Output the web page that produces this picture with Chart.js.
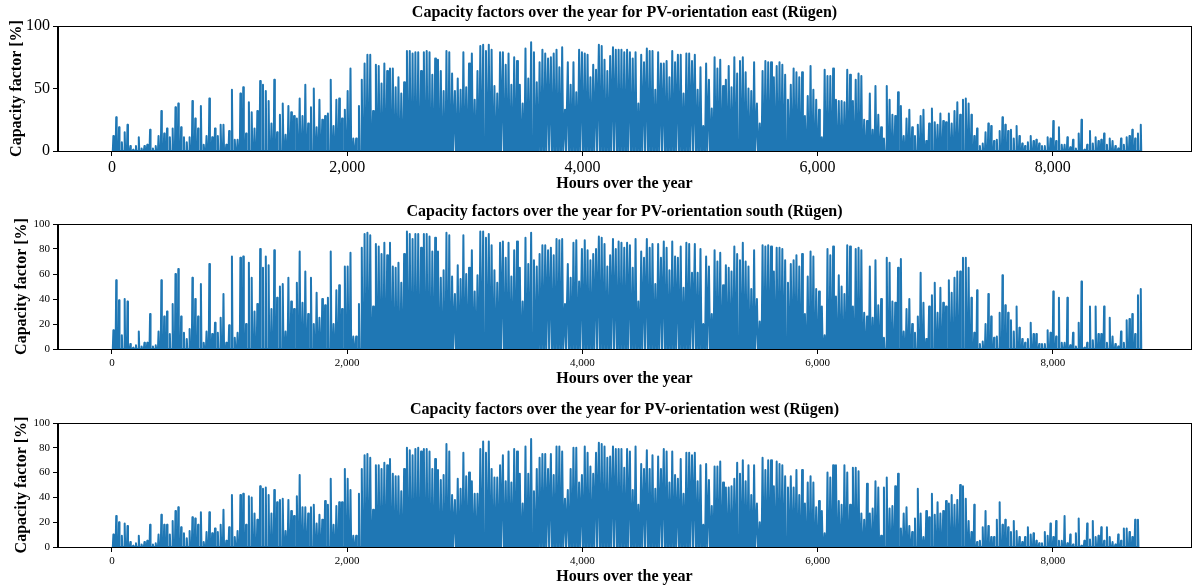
<!DOCTYPE html>
<html>
<head>
<meta charset="utf-8">
<script src="https://cdn.jsdelivr.net/npm/chart.js@4.4.1/dist/chart.umd.min.js"></script>
<style>
  html, body { margin: 0; padding: 0; background: #fff; }
  body { width: 1192px; height: 588px; position: relative; overflow: hidden; }
  .panel { position: absolute; left: 0; width: 1192px; height: 196px; }
  .panel canvas { display: block; }
</style>
</head>
<body>
<div class="panel" style="top:0px"><canvas id="east" width="1192" height="196"></canvas></div>
<div class="panel" style="top:196px"><canvas id="south" width="1192" height="196"></canvas></div>
<div class="panel" style="top:392px"><canvas id="west" width="1192" height="196"></canvas></div>
<script>
// Daily peak capacity factors [%] on Rügen, one value per day of the year
const eastPeaks = [
  12,27,19,7,15,21,4,1,4,11, 2,4,5,17,2,4,12,32,14,18, 11,18,35,38,19,11,7,11,40,26,
  18,36,5,12,42,11,18,12,21,21, 5,16,49,9,9,46,51,14,39,31, 18,32,56,53,48,40,22,57,15,29,
  38,13,36,31,28,26,42,28,53,22, 35,50,19,41,25,28,30,57,20,41, 42,26,33,48,66,10,10,36,57,70,
  77,77,32,69,68,54,70,64,66,66, 51,59,46,55,80,80,78,79,79,64, 79,80,79,61,74,73,64,48,80,79,
  62,48,58,49,79,51,70,78,41,64, 84,85,80,85,81,52,46,79,79,69, 78,53,75,72,53,38,82,58,87,79,
  55,71,81,78,74,75,78,81,67,83, 33,71,53,71,47,81,79,78,77,59, 69,65,85,84,73,64,76,83,81,81,
  81,79,
  81,79,74,79,38,77,71,82,80,80, 49,79,70,70,72,59,80,71,77,77, 46,78,78,72,77,49,67,20,70,57,
  34,75,66,73,52,57,68,51,75,62, 72,75,63,50,48,71,38,22,64,72, 71,71,59,68,71,69,61,41,53,66,
  63,59,63,28,44,68,49,41,33,11, 65,60,60,66,41,40,40,39,65,61, 40,57,62,60,25,24,46,17,52,29,
  19,10,
  52,41,29,28,47,36,12,26,33,19, 12,21,28,33,8,22,34,23,21,30, 24,23,30,22,32,39,29,41,42,38,
  29,12,18,4,6,15,22,20,8,9, 16,27,21,16,17,10,20,12,6,4, 7,12,8,9,6,4,4,11,10,24,
  8,19,5,5,11,3,9,2,14,25, 1,5,16,6,11,8,9,14,5,10, 8,4,2,10,5,11,12,17,10,14,
  21
];
const southPeaks = [
  15,55,39,11,40,38,4,1,3,14, 2,5,5,28,2,3,14,55,26,30, 12,36,60,64,26,13,8,16,57,40,
  26,52,5,14,68,12,21,13,25,44, 5,19,74,9,13,73,74,20,69,57, 30,36,80,65,74,67,32,79,41,50,
  52,14,57,38,32,53,78,37,62,28, 57,20,45,25,40,35,41,78,20,47, 51,32,66,66,77,10,10,36,81,92,
  93,91,34,84,82,76,85,75,85,66, 65,69,53,76,94,92,88,92,92,81, 92,92,90,78,89,78,57,63,93,91,
  58,44,67,56,91,60,65,79,46,59, 94,94,89,92,83,63,53,85,86,73, 85,58,79,86,65,38,89,68,93,71,
  66,76,83,83,79,81,75,88,87,88, 36,68,57,85,87,54,80,87,79,71, 76,80,90,89,84,66,75,88,80,86,
  85,81,
  85,83,65,88,38,78,73,88,81,84, 52,84,73,86,81,63,86,74,73,82, 49,85,84,61,84,61,80,20,74,66,
  28,79,70,77,51,67,65,62,82,76, 71,85,70,66,48,79,40,22,83,82, 83,82,62,81,81,80,71,53,68,71,
  75,66,76,28,58,78,74,48,46,34, 11,80,75,82,42,59,50,44,83,82, 34,80,81,79,29,26,66,25,71,35,
  40,9,
  73,69,38,37,65,72,14,32,40,20, 13,26,61,37,8,34,43,53,29,49, 37,34,55,45,57,62,62,73,73,65,
  41,13,47,4,6,20,44,26,9,10, 29,59,35,29,23,14,34,17,8,5, 8,21,12,12,4,4,4,15,13,46,
  10,41,5,5,41,3,13,2,21,54, 1,5,34,7,34,12,12,34,5,25, 10,4,2,14,5,23,24,28,12,43,
  48
];
const westPeaks = [
  10,25,20,9,19,17,4,1,3,9, 2,4,5,18,2,3,10,26,18,18, 10,21,29,32,16,11,7,13,24,23,
  18,28,4,12,28,11,15,12,18,30, 5,16,42,8,13,42,43,18,41,40, 27,22,49,47,48,42,27,46,36,38,
  39,13,38,29,25,41,58,32,32,27, 32,34,19,26,22,37,34,55,18,33, 36,36,63,55,46,9,9,43,63,74,
  75,72,30,66,66,63,68,66,71,59, 57,57,45,63,80,78,74,79,80,77, 79,79,77,63,71,62,54,58,83,77,
  42,38,55,47,76,57,60,53,43,43, 79,85,76,85,63,56,56,66,74,53, 77,52,79,77,59,35,81,59,87,45,
  63,72,75,75,63,75,58,81,81,77, 39,46,63,80,80,52,58,81,76,65, 59,76,84,83,81,72,73,81,79,79,
  79,64,
  79,77,46,81,34,67,63,78,63,74, 47,73,63,79,77,52,77,58,55,71, 43,76,76,74,76,53,66,18,67,54,
  33,65,65,69,52,48,48,49,55,68, 59,70,53,66,42,66,35,20,72,62, 70,70,49,69,67,66,57,48,57,48,
  62,42,62,35,52,57,52,32,37,29, 11,60,56,66,66,37,34,66,60,34, 64,64,61,27,22,51,27,31,53,48,
  9,
  48,56,31,33,49,59,15,27,32,17, 12,23,47,27,8,29,24,43,26,36, 27,29,37,35,42,34,38,50,49,39,
  21,12,34,4,5,16,29,17,8,8, 22,36,18,22,16,12,21,13,8,4, 8,16,10,11,5,3,3,12,9,19,
  8,21,5,5,25,3,10,2,11,23, 1,5,19,6,21,8,9,16,5,16, 8,4,2,10,5,15,15,12,8,22,
  22
];

// Hour of day with the last zero output in the morning / first zero output in the evening, per month
const monthDays   = [31, 28, 31, 30, 31, 30, 31, 31, 30, 31, 30, 31];
const morningZero = [7, 7, 6, 5, 4, 3, 3, 4, 5, 6, 7, 7];
const eveningZero = [16, 17, 18, 19, 20, 21, 21, 20, 19, 18, 16, 16];
const noonHour = 12;

const xTicks = [0, 2000, 4000, 6000, 8000];
const titles = {
  east:  'Capacity factors over the year for PV-orientation east (Rügen)',
  south: 'Capacity factors over the year for PV-orientation south (Rügen)',
  west:  'Capacity factors over the year for PV-orientation west (Rügen)'
};

// hourly series: zero through the night, rising to the daily peak around noon
function hourlySeries(peaks) {
  const pts = [];
  let month = 0, dayInMonth = 0;
  peaks.forEach((peak, day) => {
    if (dayInMonth >= monthDays[month]) { month = Math.min(month + 1, 11); dayInMonth = 0; }
    const h0 = day * 24;
    pts.push({ x: h0 + morningZero[month], y: 0 });
    pts.push({ x: h0 + noonHour, y: peak });
    pts.push({ x: h0 + eveningZero[month], y: 0 });
    dayInMonth++;
  });
  return pts;
}

const SERIF = '"Liberation Serif", "Times New Roman", serif';

// frame on all four sides plus the panel heading centred over the axes
const framePlugin = {
  id: 'frame',
  afterDraw(chart, args, opts) {
    const { ctx, chartArea: a } = chart;
    ctx.save();
    ctx.strokeStyle = '#000';
    ctx.lineWidth = 1;
    ctx.strokeRect(Math.round(a.left) - 0.5, Math.round(a.top) + 0.5,
                   Math.round(a.right - a.left) + 1, Math.round(a.bottom - a.top));
    ctx.fillStyle = '#000';
    ctx.font = 'bold 16px ' + SERIF;
    ctx.textAlign = 'center';
    ctx.textBaseline = 'middle';
    ctx.fillText(opts.text, (a.left + a.right) / 2, a.top - opts.gap);
    ctx.restore();
  }
};

function makePanel(id, peaks, cfg) {
  new Chart(document.getElementById(id), {
    type: 'line',
    data: {
      datasets: [{
        data: hourlySeries(peaks),
        borderColor: '#1f77b4',
        borderWidth: 2,
        borderJoinStyle: 'round',
        pointRadius: 0,
        fill: false,
        tension: 0
      }]
    },
    plugins: [framePlugin],
    options: {
      responsive: false,
      animation: false,
      devicePixelRatio: 1,
      layout: { padding: { left: 0, right: 1, top: cfg.top, bottom: 0 } },
      plugins: {
        legend: { display: false },
        tooltip: { enabled: false },
        frame: { text: titles[id], gap: cfg.titleGap }
      },
      scales: {
        x: {
          type: 'linear',
          min: -459,
          max: 9175,
          afterFit(scale) { scale.height = cfg.xHeight; },
          afterBuildTicks(scale) { scale.ticks = xTicks.map(v => ({ value: v })); },
          grid: { display: true, drawOnChartArea: false, drawTicks: true, tickLength: 5, color: '#000', tickColor: '#000' },
          border: { display: true, color: '#000', width: 1 },
          ticks: {
            includeBounds: false,
            maxRotation: 0,
            autoSkip: false,
            padding: cfg.xTickPad,
            color: '#000',
            font: { family: SERIF, size: cfg.tickSize },
            callback: v => v.toLocaleString('en-US')
          },
          title: {
            display: true,
            text: 'Hours over the year',
            color: '#000',
            font: { family: SERIF, size: 16, weight: 'bold' },
            padding: { top: 0, bottom: cfg.xTitlePad }
          }
        },
        y: {
          min: 0,
          max: 100,
          afterFit(scale) { scale.width = 58; },
          grid: { display: true, drawOnChartArea: false, drawTicks: true, tickLength: 5, color: '#000', tickColor: '#000' },
          border: { display: true, color: '#000', width: 1 },
          ticks: {
            stepSize: cfg.yStep,
            padding: 3,
            color: '#000',
            font: { family: SERIF, size: cfg.tickSize }
          },
          title: {
            display: true,
            text: 'Capacity factor [%]',
            color: '#000',
            font: { family: SERIF, size: 16, weight: 'bold' },
            padding: { top: cfg.yTitlePad, bottom: 0 }
          }
        }
      }
    }
  });
}

makePanel('east',  eastPeaks,  { top: 26, xHeight: 45, titleGap: 13, tickSize: 16, xTickPad: 2, xTitlePad: 2.4, yTitlePad: 7.4,  yStep: 50 });
makePanel('south', southPeaks, { top: 28, xHeight: 43, titleGap: 12, tickSize: 11, xTickPad: 3, xTitlePad: 3.4, yTitlePad: 12.4, yStep: 20 });
makePanel('west',  westPeaks,  { top: 31, xHeight: 41, titleGap: 13, tickSize: 11, xTickPad: 3, xTitlePad: 1.4, yTitlePad: 12.4, yStep: 20 });
</script>
</body>
</html>
